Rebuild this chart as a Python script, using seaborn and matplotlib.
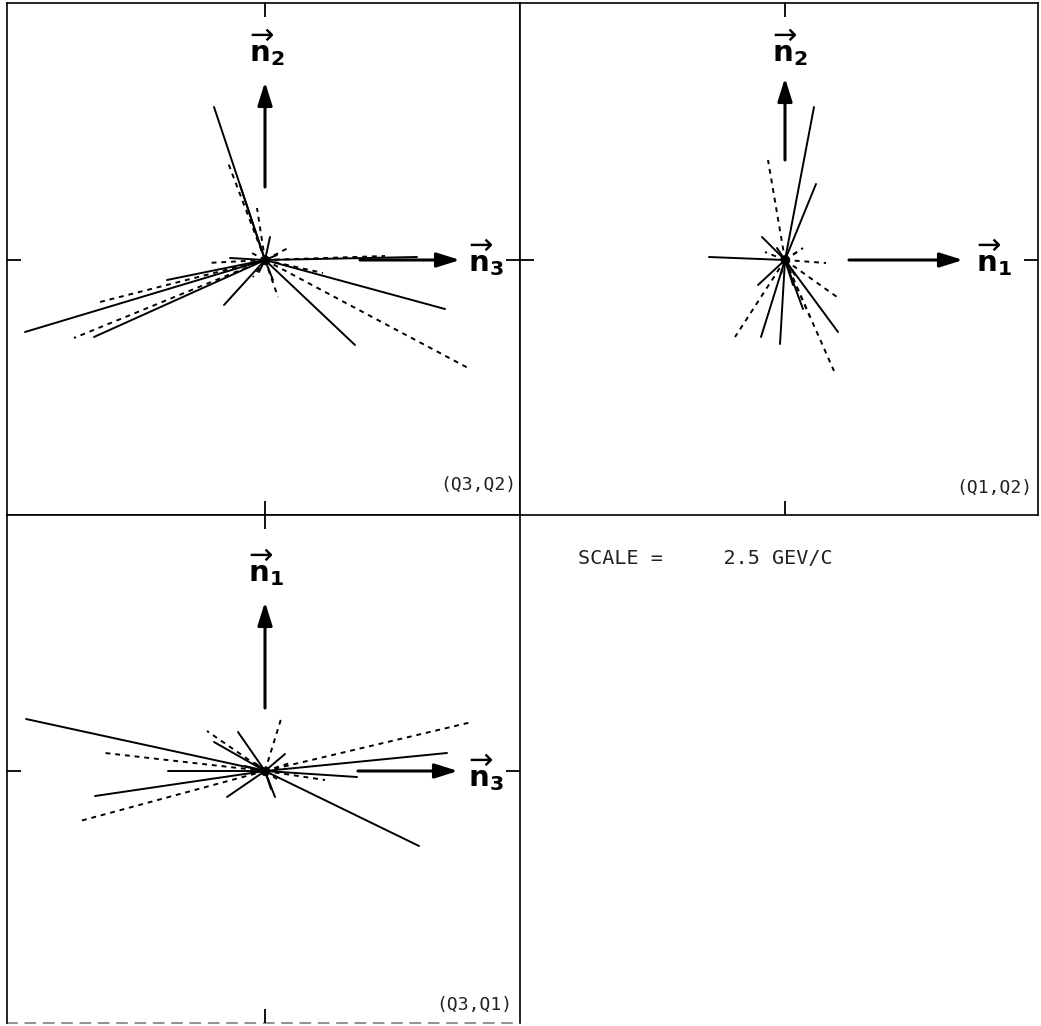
import numpy as np
import pandas as pd
import matplotlib
matplotlib.use("Agg")
import matplotlib.pyplot as plt
import seaborn as sns

# ---------------- data: track momentum projections (pixel-scaled units) ----------------
# Panel (Q3,Q2): x = Q3 component, y = Q2 component
tl_x = [-51, -240, -171, -191, -165, -98, -58, -35, -41, 90, 205, 180, 152, 120, 58, 25, 5, -8, 13, -38, -12,
        8, -15, 12, -6, -25]
tl_y = [153, -72, -77, -78, -42, -20, -3, 2, -45, -85, -109, -49, 3, 4, -13, 13, 23, 52, -37, 100, -17,
        -20, 8, 5, -12, 75]
tl_kind = ["S", "S", "S", "D", "D", "S", "D", "S", "S", "S", "D", "S", "S", "D", "D", "D", "S", "D", "D", "D", "D",
           "S", "D", "S", "S", "S"]

# Panel (Q1,Q2): x = Q1 component, y = Q2 component
tr_x = [29, 31, -17, -76, -23, 41, 52, 53, 49, -5, -24, -50, -27, -20, 18, 18, 25,
        10, -8, 12, -5, 8]
tr_y = [153, 76, 100, 3, 23, -3, -37, -72, -111, -84, -77, -77, -25, 8, 12, -49, -57,
        -15, 12, 8, -18, -25]
tr_kind = ["S", "S", "D", "S", "S", "D", "D", "S", "D", "S", "S", "D", "S", "D", "D", "S", "D",
           "S", "S", "D", "D", "S"]

# Panel (Q3,Q1): x = Q3 component, y = Q1 component
bl_x = [-239, -160, -97, -170, -185, -38, -58, -27, 16, 20, 207, 182, 92, 60, 154, 10, -51,
        -10, 12, -20, 25, 6]
bl_y = [52, 18, 0, -25, -50, -26, 40, 39, 52, 17, 49, 18, -6, -9, -75, -26, 29,
        8, -8, 5, 8, -18]
bl_kind = ["S", "D", "S", "S", "D", "S", "D", "S", "D", "S", "D", "S", "S", "D", "S", "S", "S",
           "S", "D", "S", "D", "S"]

# axis-vector arrows: (start, end) lengths along the horizontal / vertical direction
tl_h_arrow, tl_v_arrow = (95, 195), (73, 178)
tr_h_arrow, tr_v_arrow = (64, 178), (100, 182)
bl_h_arrow, bl_v_arrow = (93, 193), (63, 169)

panel_tags = ["(Q3,Q2)", "(Q1,Q2)", "(Q3,Q1)"]
axis_names = [("3", "2"), ("1", "2"), ("3", "1")]
scale_text = "SCALE =     2.5 GEV/C"

# ---------------- styling ----------------
sns.set_theme(style="white")
plt.rcParams["font.family"] = ["DejaVu Sans"]
plt.rcParams["mathtext.fontset"] = "dejavusans"

W, H = 1041, 1026
fig = plt.figure(figsize=(W / 100, H / 100), dpi=100)
fig.patch.set_facecolor("white")


def add_ax(l, t, r, b):
    return fig.add_axes([l / W, 1 - b / H, (r - l) / W, (b - t) / H])


def tracks_frame(xs, ys, kinds):
    n = len(xs)
    rows = []
    for i in range(n):
        rows.append((i, 0.0, 0.0, kinds[i]))
        rows.append((i, xs[i], ys[i], kinds[i]))
    return pd.DataFrame(rows, columns=["track", "x", "y", "kind"])


def vec_label(sub):
    return r"$\overrightarrow{\mathbf{n}}_{\mathbf{%s}}$" % sub


def draw_panel(ax, xs, ys, kinds, h_arrow, v_arrow, names, tag, tag_pos, lab_h, lab_v):
    df = tracks_frame(xs, ys, kinds)
    sns.lineplot(data=df, x="x", y="y", units="track", estimator=None, sort=False,
                 style="kind", style_order=["S", "D"], dashes={"S": "", "D": (2.5, 2.5)},
                 color="black", lw=1.4, legend=False, ax=ax)
    # interaction vertex (dense overlap of tracks)
    sns.scatterplot(x=[0.0], y=[0.0], s=40, color="black", edgecolor="black", legend=False, ax=ax)
    ap = dict(arrowstyle="-|>,head_length=0.7,head_width=0.22", lw=2.2, color="black",
              shrinkA=0, shrinkB=0, mutation_scale=20)
    ax.annotate("", xy=(h_arrow[1], 0), xytext=(h_arrow[0], 0), arrowprops=ap)
    ax.annotate("", xy=(0, v_arrow[1]), xytext=(0, v_arrow[0]), arrowprops=ap)
    ax.text(lab_h[0], lab_h[1], vec_label(names[0]), fontsize=21, ha="center", va="center",
            color="black")
    ax.text(lab_v[0], lab_v[1], vec_label(names[1]), fontsize=21, ha="center", va="center",
            color="black")
    ax.text(tag_pos[0], tag_pos[1], tag, transform=ax.transAxes, ha="right", va="center",
            family="DejaVu Sans Mono", fontsize=13, color="#222222")
    ax.set_xlabel("")
    ax.set_ylabel("")
    ax.set_xticks([0])
    ax.set_yticks([0])
    ax.tick_params(direction="in", length=10, width=1.3, color="black",
                   bottom=True, top=True, left=True, right=True,
                   labelbottom=False, labelleft=False)
    for sp in ax.spines.values():
        sp.set_visible(True)
        sp.set_color("black")
        sp.set_linewidth(1.2)
    ax.set_facecolor("white")


ax_tl = add_ax(7, 3, 520, 515)
ax_tr = add_ax(520, 3, 1038, 515)
ax_bl = add_ax(7, 515, 520, 1023)

draw_panel(ax_tl, tl_x, tl_y, tl_kind, tl_h_arrow, tl_v_arrow, axis_names[0], panel_tags[0],
           (0.993, 0.058), (221, 2), (2, 212))
draw_panel(ax_tr, tr_x, tr_y, tr_kind, tr_h_arrow, tr_v_arrow, axis_names[1], panel_tags[1],
           (0.990, 0.052), (209, 2), (5, 212))
draw_panel(ax_bl, bl_x, bl_y, bl_kind, bl_h_arrow, bl_v_arrow, axis_names[2], panel_tags[2],
           (0.985, 0.036), (221, -2), (1, 203))

ax_tl.set_xlim(-258, 255); ax_tl.set_ylim(-255, 257)
ax_tr.set_xlim(-265, 253); ax_tr.set_ylim(-255, 257)
ax_bl.set_xlim(-258, 255); ax_bl.set_ylim(-252, 256)

ax_bl.spines["bottom"].set_linestyle((0, (6, 5)))
ax_bl.spines["bottom"].set_alpha(0.5)

fig.text(578 / W, 1 - 558 / H, scale_text, family="DejaVu Sans Mono", fontsize=14.5,
         ha="left", va="center", color="#222222")

fig.savefig("out.png", dpi=100, facecolor="white")
